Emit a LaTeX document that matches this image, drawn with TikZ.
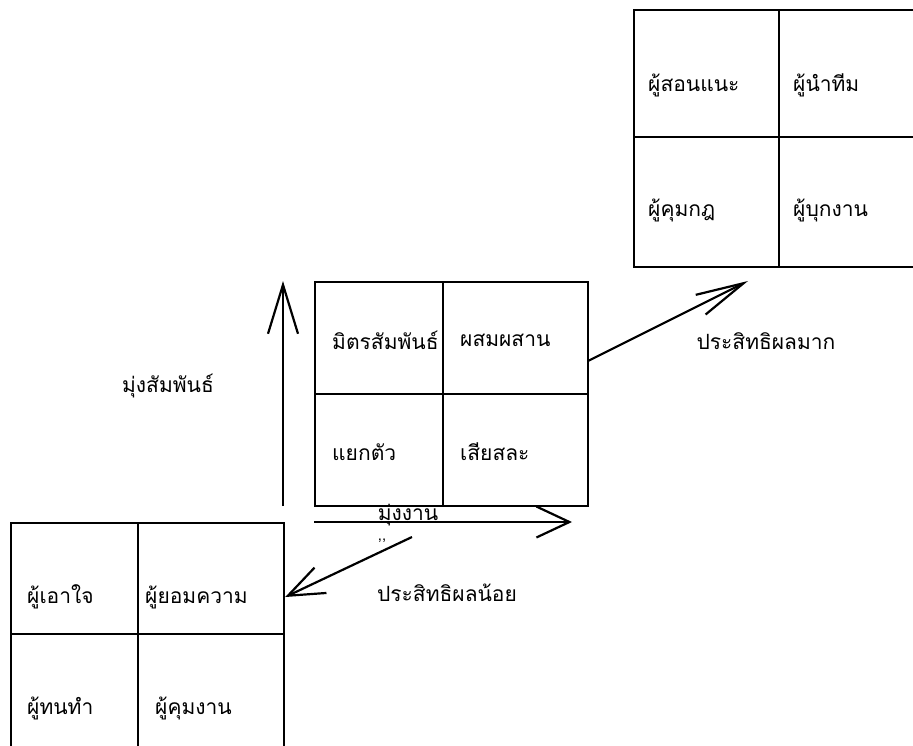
\documentclass[tikz,border=0pt]{standalone}
\usepackage{fontspec}
\newfontfamily\thaifont[Script=Thai]{Loma}
\usetikzlibrary{arrows.meta, positioning}

\begin{document}
\begin{tikzpicture}[
  x=1pt, y=-1pt,
  >={Straight Barb[length=36pt, width=30pt]},
  every node/.style={font=\thaifont\fontsize{21}{24}\selectfont},
  quad/.style={draw, line width=2.2pt, minimum width=273pt, minimum height=224pt,
               anchor=north west, inner sep=0pt},
  rule/.style={line width=2.2pt},
  cell/.style={anchor=west, inner sep=0pt},
  axis/.style={->, line width=2.2pt},
]
\useasboundingbox (0,0) rectangle (913,745);

% middle grid
\node[quad] (mid) at (314,281) {};
\draw[rule] (443,281) -- (443,505);
\draw[rule] (314,394) -- (587,394);
\node[cell] (mitr) at (332,340) {มิตรสัมพันธ์};
\node[cell] (phsom) at (460,340) {ผสมผสาน};
\node[cell] (yaek) at (332,452) {แยกตัว};
\node[cell] (sia) at (460,452) {เสียสละ};

% lower left grid
\node[quad] (low) at (10,522) {};
\draw[rule] (138,522) -- (138,746);
\draw[rule] (10,634) -- (283,634);
\node[cell] (aojai) at (27,597) {ผู้เอาใจ};
\node[cell] (yom) at (145,597) {ผู้ยอมความ};
\node[cell] (thon) at (27,708) {ผู้ทนทำ};
\node[cell] (khum) at (155,708) {ผู้คุมงาน};

% upper right grid
\node[quad, minimum width=285pt, minimum height=257pt] (high) at (633,9) {};
\draw[rule] (779,9) -- (779,266);
\draw[rule] (633,137) -- (918,137);
\node[cell] (son) at (648,85) {ผู้สอนแนะ};
\node[cell] (nam) at (793,85) {ผู้นำทีม};
\node[cell] (kot) at (648,210) {ผู้คุมกฎ};
\node[cell] (buk) at (793,210) {ผู้บุกงาน};

% axes
\coordinate (relfoot) at (283,506);
\coordinate (reltop) at (283,281);
\coordinate (taskfoot) at (314,522);
\coordinate (tasktip) at (572,522);
\draw[axis, -{Straight Barb[length=49pt, width=30pt]}] (relfoot) -- (reltop);
\draw[axis, -{Straight Barb[length=33pt, width=31pt]}] (taskfoot) -- (tasktip);
\node (rel) at (168,386) {มุ่งสัมพันธ์};
\node[anchor=base] (task) at (408,520) {มุ่งงาน};
\node[anchor=base, inner sep=0pt, font=\thaifont\fontsize{15}{16}\selectfont]
  (ticks) at (382,540) {,,};

% effectiveness
\coordinate (upfoot) at (588,361);
\coordinate (uptip) at (748,281);
\coordinate (downfoot) at (412,537);
\draw[axis, -{Straight Barb[length=48pt, width=22pt]}] (upfoot) -- (uptip);
\draw[axis, -{Straight Barb[length=36pt, width=28pt]}] (downfoot) -- (yom.west -| low.east);
\node (more) at (766,341) {ประสิทธิผลมาก};
\node (less) at (447,593) {ประสิทธิผลน้อย};
\end{tikzpicture}
\end{document}
